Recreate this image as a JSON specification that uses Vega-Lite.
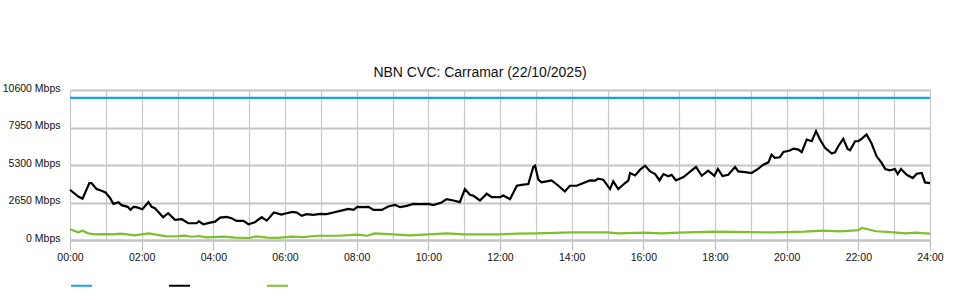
{
  "$schema": "https://vega.github.io/schema/vega-lite/v6.json",
  "width": 860,
  "height": 150,
  "autosize": "none",
  "padding": {"left": 70, "top": 90, "right": 30, "bottom": 60},
  "background": "white",
  "title": {"text": "NBN CVC: Carramar (22/10/2025)", "font": "Liberation Sans", "fontSize": 14, "fontWeight": "normal", "color": "#111111", "dx": -20, "dy": 9, "offset": 12},
  "config": {"view": {"stroke": null}},
  "datasets": {
    "rows": [
      {"t": 0, "v": 10050, "s": "CVC Capacity"},
      {"t": 24, "v": 10050, "s": "CVC Capacity"},

      {"t": 0, "v": 3550, "s": "Download"},
      {"t": 0.23, "v": 3075, "s": "Download"},
      {"t": 0.35, "v": 2911, "s": "Download"},
      {"t": 0.54, "v": 4025, "s": "Download"},
      {"t": 0.6, "v": 4025, "s": "Download"},
      {"t": 0.74, "v": 3600, "s": "Download"},
      {"t": 0.88, "v": 3480, "s": "Download"},
      {"t": 0.99, "v": 3360, "s": "Download"},
      {"t": 1.12, "v": 2960, "s": "Download"},
      {"t": 1.21, "v": 2556, "s": "Download"},
      {"t": 1.35, "v": 2675, "s": "Download"},
      {"t": 1.44, "v": 2462, "s": "Download"},
      {"t": 1.61, "v": 2343, "s": "Download"},
      {"t": 1.69, "v": 2130, "s": "Download"},
      {"t": 1.77, "v": 2343, "s": "Download"},
      {"t": 1.85, "v": 2320, "s": "Download"},
      {"t": 2.02, "v": 2177, "s": "Download"},
      {"t": 2.19, "v": 2675, "s": "Download"},
      {"t": 2.28, "v": 2343, "s": "Download"},
      {"t": 2.37, "v": 2248, "s": "Download"},
      {"t": 2.6, "v": 1610, "s": "Download"},
      {"t": 2.74, "v": 1894, "s": "Download"},
      {"t": 2.93, "v": 1420, "s": "Download"},
      {"t": 3.12, "v": 1467, "s": "Download"},
      {"t": 3.3, "v": 1183, "s": "Download"},
      {"t": 3.53, "v": 1183, "s": "Download"},
      {"t": 3.6, "v": 1325, "s": "Download"},
      {"t": 3.72, "v": 1112, "s": "Download"},
      {"t": 3.91, "v": 1230, "s": "Download"},
      {"t": 4.05, "v": 1300, "s": "Download"},
      {"t": 4.19, "v": 1586, "s": "Download"},
      {"t": 4.37, "v": 1633, "s": "Download"},
      {"t": 4.51, "v": 1540, "s": "Download"},
      {"t": 4.65, "v": 1350, "s": "Download"},
      {"t": 4.84, "v": 1350, "s": "Download"},
      {"t": 4.98, "v": 1112, "s": "Download"},
      {"t": 5.16, "v": 1254, "s": "Download"},
      {"t": 5.35, "v": 1610, "s": "Download"},
      {"t": 5.49, "v": 1370, "s": "Download"},
      {"t": 5.69, "v": 1940, "s": "Download"},
      {"t": 5.9, "v": 1800, "s": "Download"},
      {"t": 6.04, "v": 1890, "s": "Download"},
      {"t": 6.21, "v": 1988, "s": "Download"},
      {"t": 6.33, "v": 1940, "s": "Download"},
      {"t": 6.47, "v": 1704, "s": "Download"},
      {"t": 6.6, "v": 1830, "s": "Download"},
      {"t": 6.79, "v": 1780, "s": "Download"},
      {"t": 6.98, "v": 1850, "s": "Download"},
      {"t": 7.16, "v": 1830, "s": "Download"},
      {"t": 7.35, "v": 1940, "s": "Download"},
      {"t": 7.54, "v": 2059, "s": "Download"},
      {"t": 7.77, "v": 2200, "s": "Download"},
      {"t": 7.91, "v": 2130, "s": "Download"},
      {"t": 8.02, "v": 2343, "s": "Download"},
      {"t": 8.19, "v": 2320, "s": "Download"},
      {"t": 8.33, "v": 2343, "s": "Download"},
      {"t": 8.47, "v": 2130, "s": "Download"},
      {"t": 8.7, "v": 2130, "s": "Download"},
      {"t": 8.88, "v": 2367, "s": "Download"},
      {"t": 9.07, "v": 2485, "s": "Download"},
      {"t": 9.21, "v": 2320, "s": "Download"},
      {"t": 9.4, "v": 2414, "s": "Download"},
      {"t": 9.58, "v": 2556, "s": "Download"},
      {"t": 9.77, "v": 2532, "s": "Download"},
      {"t": 10.0, "v": 2556, "s": "Download"},
      {"t": 10.14, "v": 2462, "s": "Download"},
      {"t": 10.37, "v": 2650, "s": "Download"},
      {"t": 10.51, "v": 2887, "s": "Download"},
      {"t": 10.7, "v": 2790, "s": "Download"},
      {"t": 10.88, "v": 2675, "s": "Download"},
      {"t": 11.02, "v": 3600, "s": "Download"},
      {"t": 11.16, "v": 3195, "s": "Download"},
      {"t": 11.26, "v": 3125, "s": "Download"},
      {"t": 11.44, "v": 2793, "s": "Download"},
      {"t": 11.63, "v": 3266, "s": "Download"},
      {"t": 11.77, "v": 3030, "s": "Download"},
      {"t": 12.0, "v": 3030, "s": "Download"},
      {"t": 12.09, "v": 3150, "s": "Download"},
      {"t": 12.28, "v": 2887, "s": "Download"},
      {"t": 12.47, "v": 3834, "s": "Download"},
      {"t": 12.6, "v": 3900, "s": "Download"},
      {"t": 12.79, "v": 3950, "s": "Download"},
      {"t": 12.93, "v": 5160, "s": "Download"},
      {"t": 12.98, "v": 5250, "s": "Download"},
      {"t": 13.07, "v": 4260, "s": "Download"},
      {"t": 13.16, "v": 4070, "s": "Download"},
      {"t": 13.3, "v": 4140, "s": "Download"},
      {"t": 13.44, "v": 4210, "s": "Download"},
      {"t": 13.63, "v": 3834, "s": "Download"},
      {"t": 13.81, "v": 3430, "s": "Download"},
      {"t": 13.95, "v": 3834, "s": "Download"},
      {"t": 14.14, "v": 3834, "s": "Download"},
      {"t": 14.33, "v": 4025, "s": "Download"},
      {"t": 14.51, "v": 4210, "s": "Download"},
      {"t": 14.65, "v": 4190, "s": "Download"},
      {"t": 14.74, "v": 4330, "s": "Download"},
      {"t": 14.88, "v": 4260, "s": "Download"},
      {"t": 15.07, "v": 3600, "s": "Download"},
      {"t": 15.16, "v": 4140, "s": "Download"},
      {"t": 15.3, "v": 3600, "s": "Download"},
      {"t": 15.49, "v": 4025, "s": "Download"},
      {"t": 15.58, "v": 4190, "s": "Download"},
      {"t": 15.63, "v": 4735, "s": "Download"},
      {"t": 15.77, "v": 4566, "s": "Download"},
      {"t": 15.91, "v": 4970, "s": "Download"},
      {"t": 16.05, "v": 5254, "s": "Download"},
      {"t": 16.19, "v": 4850, "s": "Download"},
      {"t": 16.33, "v": 4660, "s": "Download"},
      {"t": 16.45, "v": 4210, "s": "Download"},
      {"t": 16.56, "v": 4660, "s": "Download"},
      {"t": 16.7, "v": 4500, "s": "Download"},
      {"t": 16.79, "v": 4610, "s": "Download"},
      {"t": 16.91, "v": 4210, "s": "Download"},
      {"t": 17.12, "v": 4450, "s": "Download"},
      {"t": 17.35, "v": 4920, "s": "Download"},
      {"t": 17.47, "v": 5160, "s": "Download"},
      {"t": 17.63, "v": 4540, "s": "Download"},
      {"t": 17.81, "v": 4900, "s": "Download"},
      {"t": 17.98, "v": 4540, "s": "Download"},
      {"t": 18.08, "v": 5020, "s": "Download"},
      {"t": 18.21, "v": 4520, "s": "Download"},
      {"t": 18.37, "v": 4610, "s": "Download"},
      {"t": 18.56, "v": 5160, "s": "Download"},
      {"t": 18.65, "v": 4850, "s": "Download"},
      {"t": 18.84, "v": 4800, "s": "Download"},
      {"t": 19.02, "v": 4735, "s": "Download"},
      {"t": 19.2, "v": 5020, "s": "Download"},
      {"t": 19.35, "v": 5325, "s": "Download"},
      {"t": 19.49, "v": 5490, "s": "Download"},
      {"t": 19.58, "v": 6035, "s": "Download"},
      {"t": 19.67, "v": 5800, "s": "Download"},
      {"t": 19.81, "v": 5850, "s": "Download"},
      {"t": 19.91, "v": 6225, "s": "Download"},
      {"t": 20.09, "v": 6320, "s": "Download"},
      {"t": 20.19, "v": 6460, "s": "Download"},
      {"t": 20.33, "v": 6390, "s": "Download"},
      {"t": 20.42, "v": 6200, "s": "Download"},
      {"t": 20.56, "v": 7100, "s": "Download"},
      {"t": 20.7, "v": 6980, "s": "Download"},
      {"t": 20.82, "v": 7690, "s": "Download"},
      {"t": 20.93, "v": 7100, "s": "Download"},
      {"t": 21.07, "v": 6510, "s": "Download"},
      {"t": 21.26, "v": 6106, "s": "Download"},
      {"t": 21.35, "v": 6200, "s": "Download"},
      {"t": 21.44, "v": 6625, "s": "Download"},
      {"t": 21.58, "v": 7150, "s": "Download"},
      {"t": 21.7, "v": 6440, "s": "Download"},
      {"t": 21.77, "v": 6340, "s": "Download"},
      {"t": 21.91, "v": 6980, "s": "Download"},
      {"t": 22.0, "v": 6980, "s": "Download"},
      {"t": 22.09, "v": 7150, "s": "Download"},
      {"t": 22.23, "v": 7455, "s": "Download"},
      {"t": 22.37, "v": 6816, "s": "Download"},
      {"t": 22.51, "v": 5915, "s": "Download"},
      {"t": 22.65, "v": 5445, "s": "Download"},
      {"t": 22.75, "v": 5020, "s": "Download"},
      {"t": 22.88, "v": 4920, "s": "Download"},
      {"t": 23.02, "v": 5020, "s": "Download"},
      {"t": 23.1, "v": 4660, "s": "Download"},
      {"t": 23.19, "v": 5020, "s": "Download"},
      {"t": 23.35, "v": 4610, "s": "Download"},
      {"t": 23.52, "v": 4380, "s": "Download"},
      {"t": 23.63, "v": 4680, "s": "Download"},
      {"t": 23.77, "v": 4735, "s": "Download"},
      {"t": 23.86, "v": 4070, "s": "Download"},
      {"t": 24.0, "v": 4025, "s": "Download"},

      {"t": 0, "v": 760, "s": "Upload"},
      {"t": 0.23, "v": 540, "s": "Upload"},
      {"t": 0.35, "v": 660, "s": "Upload"},
      {"t": 0.5, "v": 470, "s": "Upload"},
      {"t": 0.7, "v": 400, "s": "Upload"},
      {"t": 1.0, "v": 420, "s": "Upload"},
      {"t": 1.2, "v": 400, "s": "Upload"},
      {"t": 1.4, "v": 450, "s": "Upload"},
      {"t": 1.6, "v": 400, "s": "Upload"},
      {"t": 1.8, "v": 330, "s": "Upload"},
      {"t": 2.0, "v": 400, "s": "Upload"},
      {"t": 2.2, "v": 470, "s": "Upload"},
      {"t": 2.4, "v": 380, "s": "Upload"},
      {"t": 2.7, "v": 260, "s": "Upload"},
      {"t": 3.0, "v": 280, "s": "Upload"},
      {"t": 3.2, "v": 310, "s": "Upload"},
      {"t": 3.4, "v": 230, "s": "Upload"},
      {"t": 3.6, "v": 280, "s": "Upload"},
      {"t": 3.8, "v": 190, "s": "Upload"},
      {"t": 4.0, "v": 210, "s": "Upload"},
      {"t": 4.3, "v": 240, "s": "Upload"},
      {"t": 4.6, "v": 170, "s": "Upload"},
      {"t": 5.0, "v": 140, "s": "Upload"},
      {"t": 5.2, "v": 260, "s": "Upload"},
      {"t": 5.5, "v": 170, "s": "Upload"},
      {"t": 5.8, "v": 150, "s": "Upload"},
      {"t": 6.2, "v": 240, "s": "Upload"},
      {"t": 6.5, "v": 210, "s": "Upload"},
      {"t": 6.9, "v": 300, "s": "Upload"},
      {"t": 7.5, "v": 300, "s": "Upload"},
      {"t": 8.0, "v": 380, "s": "Upload"},
      {"t": 8.3, "v": 300, "s": "Upload"},
      {"t": 8.5, "v": 470, "s": "Upload"},
      {"t": 8.9, "v": 420, "s": "Upload"},
      {"t": 9.5, "v": 330, "s": "Upload"},
      {"t": 10.0, "v": 400, "s": "Upload"},
      {"t": 10.5, "v": 470, "s": "Upload"},
      {"t": 11.0, "v": 400, "s": "Upload"},
      {"t": 12.0, "v": 400, "s": "Upload"},
      {"t": 12.5, "v": 450, "s": "Upload"},
      {"t": 13.0, "v": 470, "s": "Upload"},
      {"t": 14.0, "v": 540, "s": "Upload"},
      {"t": 15.0, "v": 540, "s": "Upload"},
      {"t": 15.3, "v": 470, "s": "Upload"},
      {"t": 16.0, "v": 520, "s": "Upload"},
      {"t": 16.5, "v": 470, "s": "Upload"},
      {"t": 17.0, "v": 520, "s": "Upload"},
      {"t": 18.0, "v": 590, "s": "Upload"},
      {"t": 19.0, "v": 560, "s": "Upload"},
      {"t": 19.5, "v": 540, "s": "Upload"},
      {"t": 20.0, "v": 560, "s": "Upload"},
      {"t": 20.5, "v": 590, "s": "Upload"},
      {"t": 21.0, "v": 660, "s": "Upload"},
      {"t": 21.5, "v": 610, "s": "Upload"},
      {"t": 22.0, "v": 700, "s": "Upload"},
      {"t": 22.1, "v": 850, "s": "Upload"},
      {"t": 22.5, "v": 620, "s": "Upload"},
      {"t": 23.0, "v": 540, "s": "Upload"},
      {"t": 23.3, "v": 470, "s": "Upload"},
      {"t": 23.6, "v": 520, "s": "Upload"},
      {"t": 24.0, "v": 450, "s": "Upload"}
    ]
  },
  "data": {"name": "rows"},
  "mark": {"type": "line", "strokeWidth": 2.2},
  "encoding": {
    "x": {
      "field": "t",
      "type": "quantitative",
      "scale": {"domain": [0, 24], "nice": false, "zero": false},
      "axis": {
        "title": null,
        "values": [0, 1, 2, 3, 4, 5, 6, 7, 8, 9, 10, 11, 12, 13, 14, 15, 16, 17, 18, 19, 20, 21, 22, 23, 24],
        "grid": true,
        "gridColor": "#c8c8c8",
        "gridWidth": 1.2,
        "domainColor": "#c4c4c4",
        "domainWidth": 2,
        "tickColor": {"condition": {"test": "datum.value % 2 == 1", "value": "transparent"}, "value": "#bdbdbd"},
        "tickSize": 10,
        "tickWidth": 1.2,
        "labelExpr": "datum.value % 2 == 0 ? (datum.value < 10 ? '0' : '') + datum.value + ':00' : ''",
        "labelFont": "Liberation Sans",
        "labelFontSize": 10.5,
        "labelColor": "#111111",
        "labelPadding": 2,
        "labelFlush": false,
        "labelOverlap": false
      }
    },
    "y": {
      "field": "v",
      "type": "quantitative",
      "scale": {"domain": [0, 10600], "nice": false},
      "axis": {
        "title": null,
        "values": [0, 2650, 5300, 7950, 10600],
        "grid": true,
        "gridColor": "#c4c4c4",
        "gridWidth": 2,
        "domain": false,
        "ticks": false,
        "labelExpr": "datum.value + ' Mbps'",
        "labelFont": "Liberation Sans",
        "labelFontSize": 10.5,
        "labelColor": "#111111",
        "labelPadding": 10,
        "labelOffset": -2
      }
    },
    "color": {
      "field": "s",
      "type": "nominal",
      "scale": {"domain": ["CVC Capacity", "Download", "Upload"], "range": ["#1ba1e2", "#000000", "#7cc02c"]},
      "legend": {
        "orient": "none",
        "legendX": 0,
        "legendY": 184,
        "direction": "horizontal",
        "title": null,
        "symbolType": "stroke",
        "symbolSize": 441,
        "symbolStrokeWidth": 2,
        "labelExpr": "''",
        "labelOffset": 0,
        "columnPadding": 69,
        "padding": 0,
        "symbolOffset": 0
      }
    }
  }
}
